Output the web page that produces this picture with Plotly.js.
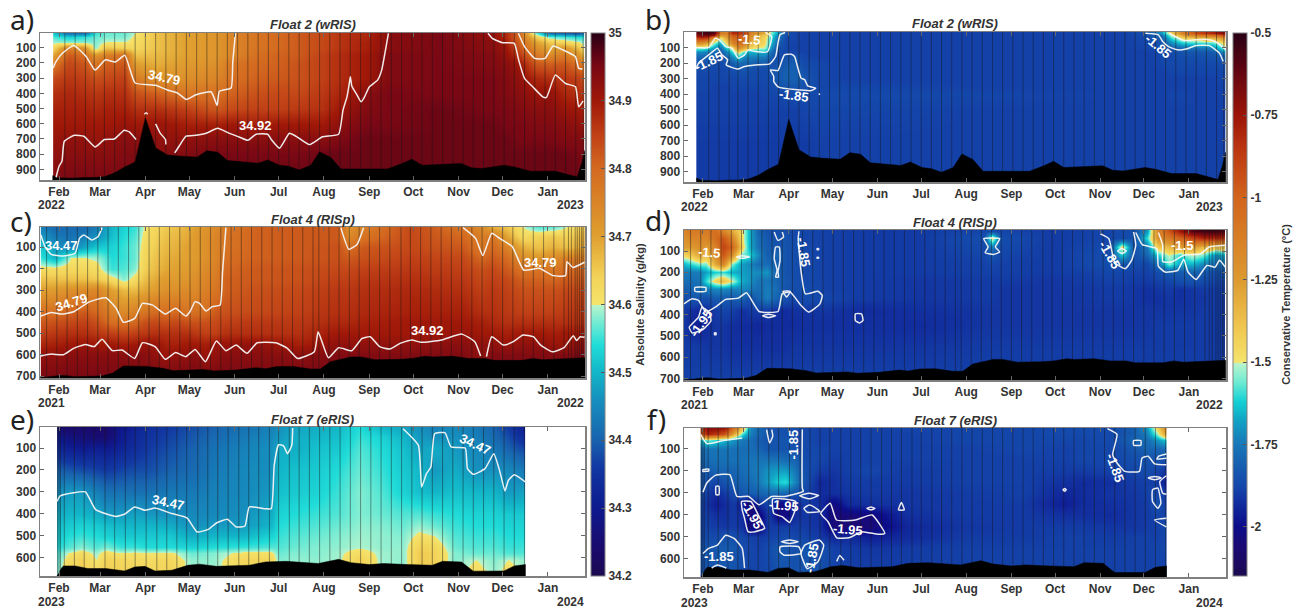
<!DOCTYPE html>
<html><head><meta charset="utf-8">
<script src="https://cdn.plot.ly/plotly-3.0.1.min.js"></script>
<style>html,body{margin:0;padding:0;background:#fff}#chart{width:1296px;height:609px}</style>
</head><body><div id="chart"></div>
<script>
// ---------- shared tick data (days since 1 February of the start year) ----------
const monthLabels = ['Feb','Mar','Apr','May','Jun','Jul','Aug','Sep','Oct','Nov','Dec','Jan'];
const monthDays = [0,28,59,89,120,150,181,212,242,273,303,334];

// ---------- colour scales ----------
const salinityStops = [[34.2,'#1c0a50'],[34.24,'#1a0a6c'],[34.3,'#0e1a8e'],[34.36,'#1238a2'],[34.4,'#1862ae'],[34.46,'#1690be'],[34.5,'#12b6c8'],[34.54,'#20dcd8'],[34.58,'#84eed2'],[34.599,'#baf4cc'],[34.6,'#f5e46c'],[34.64,'#f3d358'],[34.7,'#e0a030'],[34.8,'#d46a20'],[34.85,'#c04016'],[34.9,'#a01808'],[34.95,'#7a0814'],[34.97,'#5c0416'],[35,'#280014']];
const temperatureStops = [[-2.15,'#1c0a50'],[-2.05,'#1a0a78'],[-2,'#0c0c8a'],[-1.92,'#1230a0'],[-1.88,'#1446aa'],[-1.83,'#1558ae'],[-1.75,'#1878b8'],[-1.68,'#12a0c4'],[-1.62,'#14d0d4'],[-1.56,'#70ecd2'],[-1.505,'#b8f4cc'],[-1.5,'#f5e46c'],[-1.4,'#f0c850'],[-1.25,'#dd9a30'],[-1,'#d2641c'],[-0.85,'#bb3510'],[-0.75,'#9c1408'],[-0.6,'#5a0412'],[-0.5,'#280014']];

// ---------- Float 2 ----------
const float2Profiles = [4,11,18,24,31,38,45,52,59,66,73,80,87,94,101,108,115,122,129,136,143,150,157,164,171,178,185,192,199,206,213,220,227,234,241,248,255,262,269,276,283,290,297,304,311,318,325,332,339,346,353,358];
const float2Bathy = [[-4.3,941],[-1,956],[9,958],[17,954],[24,954],[31,948],[38,923],[44.6,886],[52,851],[59,562],[66,759],[74,805],[81,812],[94.3,820],[101,777],[108.4,788],[115,842],[136,860],[142.6,838],[150.6,873],[157,880],[164,904],[172,873],[178,785],[185.7,822],[192.5,897],[224.5,897],[234.3,862],[241,833],[248,873],[274.7,862],[281.7,890],[288.7,895],[304,873],[311,884],[322,912],[339,912],[354,950],[357,862],[359.3,774]];

const aDays = [-4,6,18,25,32,45,52,66,87,108,118,135,150,165,180,195,210,225,260,295,305,314,325,335,345,355,359];
const aDepths = [5,30,60,100,150,200,300,400,500,600,700,800,970];
const aSalinity = [
[34.52,34.42,34.42,34.55,34.57,34.57,34.60,34.66,34.70,34.72,34.75,34.78,34.80,34.82,34.84,34.87,34.88,34.93,34.95,34.92,34.88,34.80,34.58,34.42,34.40,34.38,34.45],
[34.56,34.53,34.55,34.57,34.58,34.58,34.61,34.66,34.70,34.72,34.75,34.78,34.80,34.82,34.84,34.87,34.88,34.93,34.95,34.92,34.88,34.80,34.65,34.58,34.56,34.54,34.55],
[34.59,34.58,34.58,34.58,34.60,34.60,34.62,34.66,34.70,34.72,34.75,34.78,34.80,34.82,34.84,34.87,34.89,34.93,34.95,34.93,34.90,34.81,34.70,34.65,34.63,34.60,34.58],
[34.63,34.76,34.72,34.58,34.66,34.64,34.63,34.66,34.70,34.72,34.75,34.78,34.80,34.82,34.84,34.87,34.89,34.93,34.95,34.93,34.91,34.83,34.74,34.69,34.72,34.66,34.60],
[34.70,34.82,34.79,34.72,34.76,34.79,34.66,34.67,34.70,34.72,34.75,34.79,34.81,34.82,34.85,34.88,34.90,34.94,34.95,34.94,34.92,34.86,34.78,34.74,34.77,34.72,34.66],
[34.77,34.84,34.82,34.78,34.81,34.82,34.70,34.68,34.71,34.73,34.78,34.80,34.81,34.83,34.85,34.88,34.90,34.94,34.95,34.94,34.93,34.90,34.82,34.81,34.82,34.78,34.75],
[34.84,34.86,34.85,34.83,34.84,34.85,34.77,34.72,34.73,34.75,34.79,34.81,34.82,34.83,34.85,34.88,34.90,34.94,34.95,34.95,34.94,34.92,34.88,34.87,34.86,34.85,34.82],
[34.87,34.88,34.87,34.86,34.87,34.87,34.83,34.81,34.78,34.79,34.81,34.83,34.84,34.84,34.86,34.89,34.93,34.95,34.95,34.95,34.94,34.93,34.91,34.92,34.88,34.87,34.85],
[34.89,34.89,34.89,34.88,34.89,34.89,34.87,34.87,34.85,34.82,34.84,34.85,34.85,34.86,34.87,34.91,34.94,34.95,34.96,34.95,34.95,34.94,34.93,34.93,34.91,34.90,34.88],
[34.90,34.90,34.90,34.90,34.90,34.91,34.90,34.91,34.89,34.89,34.90,34.89,34.90,34.90,34.90,34.93,34.95,34.95,34.96,34.96,34.95,34.95,34.94,34.94,34.93,34.92,34.90],
[34.91,34.92,34.92,34.91,34.92,34.93,34.93,34.92,34.92,34.93,34.93,34.93,34.93,34.93,34.93,34.95,34.96,34.96,34.96,34.96,34.96,34.95,34.95,34.95,34.94,34.94,34.93],
[34.92,34.93,34.93,34.93,34.93,34.94,34.94,34.93,34.94,34.95,34.95,34.95,34.95,34.95,34.96,34.96,34.96,34.96,34.96,34.96,34.96,34.96,34.96,34.96,34.96,34.95,34.94],
[34.94,34.95,34.95,34.95,34.95,34.95,34.95,34.95,34.95,34.96,34.96,34.96,34.96,34.96,34.96,34.96,34.96,34.96,34.96,34.96,34.96,34.96,34.96,34.96,34.96,34.96,34.95]];
const aContours = [
[[-4,233],[-2,190],[2.5,135],[10,85],[18.5,157],[24.6,247],[31.7,179],[38.5,194],[45,150],[52,332],[66,347],[74,378],[81,398],[87,440],[93.6,409],[104,391],[108,479],[109.5,387],[117.5,365],[118.7,190],[120.5,5]],
[[313.8,5],[318,93],[325,170],[332,170],[337.5,89],[344.4,115],[352.8,159],[355,236],[357.6,240]],
[[-2,952],[0,880],[2,847],[3.6,715],[10.5,676],[17,682],[24.6,753],[31,704],[37.8,700],[44.6,643],[48,654],[52.6,704]],
[[58.3,538],[59.5,527],[60.6,538]],
[[66,601],[69,660],[72.7,704],[73,737]],
[[79,792],[82,748],[86.8,682],[93.6,676],[100.5,663],[108.4,630],[116.4,663],[123,687],[129,709],[134.6,669],[142.6,669],[145,704],[150.6,761],[157.4,663],[162,683],[171,737],[180,686],[191,669],[194,510],[196.7,423],[198,352],[199,291],[200,352],[203.6,412],[206.4,456],[208.7,423],[212,357],[217.6,313],[220.4,247],[223,115],[225,5]],
[[293,5],[296,38],[303,67],[311,71],[314,181],[318,302],[324,361],[330.5,423],[333,427],[339,280],[346,335],[352.8,357],[355,489],[358,449]]];
const aLabels = [['34.79',72,293,12],['34.92',134,612,0]];

const bDays = [-4.5,-1,3,8,12,16,20,24,28,32,36,42,47,52,57,63,70,80,100,200,290,305,315,322,330,340,350,356,359];
const bDepths = [5,20,40,70,100,130,160,200,250,300,350,400,500,700,966];
const bTemperature = [
[-0.62,-0.58,-0.55,-0.6,-1.1,-1.15,-0.8,-0.85,-0.85,-1.1,-1.2,-1.3,-1.55,-1.7,-1.85,-1.88,-1.89,-1.89,-1.89,-1.89,-1.89,-1.85,-1.7,-1.4,-1.1,-0.9,-0.8,-0.7,-0.75],
[-0.7,-0.65,-0.65,-0.75,-1.25,-1.2,-0.95,-0.95,-1,-1.15,-1.3,-1.4,-1.58,-1.75,-1.86,-1.88,-1.89,-1.89,-1.89,-1.89,-1.89,-1.86,-1.78,-1.5,-1.25,-1.1,-1.05,-0.95,-0.9],
[-0.9,-0.85,-0.9,-1.3,-1.5,-1.3,-1.05,-1,-1.05,-1.2,-1.35,-1.45,-1.62,-1.78,-1.87,-1.88,-1.89,-1.89,-1.89,-1.89,-1.89,-1.87,-1.82,-1.6,-1.45,-1.38,-1.35,-1.25,-1.2],
[-1.2,-1.2,-1.3,-1.55,-1.65,-1.45,-1.15,-1.05,-1.1,-1.3,-1.4,-1.45,-1.65,-1.82,-1.88,-1.89,-1.89,-1.89,-1.89,-1.89,-1.89,-1.88,-1.84,-1.72,-1.62,-1.6,-1.58,-1.5,-1.42],
[-1.55,-1.55,-1.6,-1.7,-1.78,-1.62,-1.45,-1.2,-1.3,-1.45,-1.5,-1.52,-1.72,-1.85,-1.88,-1.89,-1.89,-1.89,-1.89,-1.89,-1.89,-1.88,-1.86,-1.82,-1.78,-1.76,-1.74,-1.6,-1.5],
[-1.72,-1.72,-1.74,-1.8,-1.83,-1.74,-1.6,-1.45,-1.58,-1.66,-1.66,-1.66,-1.78,-1.86,-1.88,-1.88,-1.89,-1.89,-1.89,-1.89,-1.89,-1.89,-1.88,-1.86,-1.84,-1.84,-1.83,-1.76,-1.68],
[-1.8,-1.8,-1.82,-1.84,-1.85,-1.8,-1.72,-1.62,-1.72,-1.74,-1.74,-1.75,-1.82,-1.87,-1.85,-1.84,-1.88,-1.89,-1.89,-1.89,-1.89,-1.89,-1.88,-1.87,-1.86,-1.86,-1.85,-1.83,-1.78],
[-1.84,-1.84,-1.85,-1.86,-1.87,-1.85,-1.82,-1.78,-1.8,-1.8,-1.82,-1.83,-1.85,-1.85,-1.83,-1.82,-1.87,-1.88,-1.89,-1.89,-1.89,-1.89,-1.88,-1.87,-1.87,-1.87,-1.87,-1.86,-1.84],
[-1.87,-1.87,-1.87,-1.88,-1.88,-1.87,-1.86,-1.85,-1.85,-1.86,-1.87,-1.87,-1.84,-1.83,-1.81,-1.81,-1.85,-1.88,-1.89,-1.89,-1.89,-1.89,-1.89,-1.88,-1.88,-1.88,-1.88,-1.88,-1.87],
[-1.88,-1.88,-1.88,-1.88,-1.88,-1.88,-1.88,-1.87,-1.87,-1.87,-1.87,-1.87,-1.85,-1.83,-1.81,-1.81,-1.83,-1.88,-1.89,-1.89,-1.89,-1.89,-1.89,-1.89,-1.89,-1.89,-1.89,-1.88,-1.88],
[-1.88,-1.88,-1.88,-1.89,-1.89,-1.89,-1.88,-1.88,-1.88,-1.88,-1.88,-1.88,-1.87,-1.85,-1.84,-1.84,-1.85,-1.88,-1.88,-1.89,-1.89,-1.89,-1.89,-1.89,-1.89,-1.89,-1.89,-1.89,-1.88],
[-1.89,-1.89,-1.89,-1.89,-1.89,-1.89,-1.89,-1.89,-1.89,-1.89,-1.89,-1.88,-1.88,-1.88,-1.87,-1.87,-1.87,-1.87,-1.87,-1.88,-1.89,-1.89,-1.89,-1.88,-1.88,-1.89,-1.89,-1.89,-1.89],
[-1.89,-1.89,-1.89,-1.89,-1.89,-1.89,-1.89,-1.89,-1.89,-1.89,-1.89,-1.89,-1.89,-1.89,-1.89,-1.89,-1.88,-1.88,-1.88,-1.89,-1.89,-1.89,-1.89,-1.89,-1.89,-1.89,-1.89,-1.89,-1.89],
[-1.9,-1.9,-1.9,-1.9,-1.9,-1.9,-1.9,-1.9,-1.9,-1.9,-1.9,-1.9,-1.9,-1.9,-1.9,-1.9,-1.9,-1.89,-1.89,-1.89,-1.89,-1.89,-1.89,-1.89,-1.89,-1.89,-1.89,-1.89,-1.89],
[-1.9,-1.9,-1.9,-1.9,-1.9,-1.9,-1.9,-1.9,-1.9,-1.9,-1.9,-1.9,-1.9,-1.9,-1.9,-1.9,-1.9,-1.89,-1.89,-1.89,-1.89,-1.89,-1.89,-1.89,-1.89,-1.89,-1.89,-1.89,-1.89]];
const bContours = [
[[-4.5,233],[-3,201],[4,147],[10,104],[13,147],[17,179],[16,212],[24,239],[28.6,222],[35.8,212],[46,205],[50,158],[51.6,72],[53,18],[56.5,3]],
[[-4.5,100],[4,100],[8.5,40],[11.3,50],[15.6,94],[20,104],[24.3,169],[28.6,147],[31,115],[35.8,126],[44.4,126],[47.3,29],[43,3]],
[[56,147],[60.8,143],[63,158],[64.7,212],[67.5,297],[70,308],[72,347],[77.5,362],[74.6,377],[52,355],[48.7,319],[48.7,287],[46.4,244],[51.6,248],[54.5,179],[56,147]],
[[79.6,396],[80.4,404]],
[[304,8],[313,18],[316,61],[320,94],[326,115],[332,110],[339,87],[348,87],[355,136],[357.6,190]],
[[320.5,8],[330.6,55],[345,46],[352,61],[359,111]]];
const bLabels = [['-1.5',31.6,50,5],['-1.85',4,192,-25],['-1.85',62.5,412,8],['-1.85',313,96,40]];

// ---------- Float 4 ----------
const float4Profiles = [-8.5,-1.5,5.5,12.5,19.5,26.5,33.5,40.5,47.5,54.5,61.5,68.5,75.5,82.5,89.5,96.5,103.5,110.5,117.5,124.5,131.5,138.5,145.5,152.5,159.5,166.5,173.5,177.5,184.4,191.3,198.3,205,212,219,226,233.6,240,247,254,261,268,275,282,289,296,303,310,317,324,331,338,345,348,350,352.6,354,355.5,357,358];
const float4Bathy = [[-13,708],[-2.6,700],[3,697],[11,703],[29,700],[36.4,687],[44,653],[60,655],[71,664],[78,675],[99,670],[106,676],[121,672],[135,661],[141,666],[149,656],[160,655],[171.6,667],[178.5,667],[185.5,633],[199.5,611],[206,611],[216,624],[233,622],[241,618],[250,608],[255,611],[269,608],[280,618],[291,618],[297,627],[316.5,627],[323.5,618],[330.5,624],[344,621],[359.3,615]];

const cDays = [-12.4,-3,8,18,26,36,44,52,58,66,73,80,88,93,100,107,114,135,165,190,198,208,240,276,289,296,305,317,328,338,347,359];
const cDepths = [5,50,100,150,200,250,300,400,450,500,550,600,709];
const cSalinity = [
[34.44,34.41,34.41,34.41,34.44,34.50,34.53,34.55,34.60,34.63,34.65,34.66,34.68,34.70,34.72,34.74,34.77,34.81,34.82,34.82,34.72,34.76,34.84,34.78,34.74,34.68,34.66,34.60,34.56,34.57,34.60,34.66],
[34.47,34.43,34.42,34.44,34.46,34.51,34.54,34.56,34.61,34.64,34.66,34.67,34.69,34.71,34.73,34.75,34.78,34.81,34.82,34.82,34.74,34.78,34.84,34.80,34.76,34.78,34.70,34.62,34.64,34.65,34.64,34.68],
[34.52,34.47,34.44,34.49,34.52,34.53,34.55,34.57,34.62,34.65,34.67,34.68,34.70,34.71,34.73,34.75,34.78,34.81,34.82,34.83,34.79,34.82,34.84,34.82,34.77,34.80,34.76,34.68,34.66,34.68,34.66,34.70],
[34.55,34.50,34.60,34.60,34.59,34.54,34.55,34.57,34.63,34.66,34.68,34.69,34.70,34.71,34.73,34.75,34.79,34.81,34.82,34.83,34.82,34.83,34.85,34.84,34.80,34.82,34.80,34.73,34.72,34.74,34.76,34.77],
[34.62,34.62,34.63,34.63,34.62,34.55,34.56,34.58,34.64,34.67,34.69,34.70,34.71,34.72,34.74,34.76,34.80,34.82,34.83,34.84,34.84,34.85,34.86,34.85,34.83,34.84,34.82,34.78,34.78,34.77,34.80,34.80],
[34.66,34.66,34.66,34.66,34.65,34.62,34.58,34.62,34.66,34.69,34.71,34.71,34.72,34.73,34.75,34.77,34.81,34.82,34.83,34.85,34.85,34.86,34.87,34.86,34.84,34.85,34.84,34.81,34.81,34.80,34.82,34.82],
[34.70,34.71,34.73,34.74,34.75,34.70,34.67,34.67,34.69,34.71,34.73,34.73,34.74,34.74,34.76,34.78,34.81,34.83,34.84,34.86,34.86,34.87,34.88,34.87,34.85,34.86,34.85,34.83,34.83,34.83,34.84,34.84],
[34.79,34.79,34.81,34.82,34.80,34.76,34.74,34.76,34.78,34.80,34.79,34.80,34.78,34.79,34.79,34.82,34.83,34.84,34.85,34.87,34.87,34.88,34.89,34.89,34.87,34.87,34.86,34.85,34.85,34.85,34.86,34.86],
[34.82,34.83,34.84,34.85,34.83,34.79,34.79,34.80,34.83,34.84,34.83,34.84,34.83,34.83,34.83,34.84,34.85,34.86,34.86,34.88,34.88,34.89,34.90,34.90,34.89,34.88,34.87,34.87,34.87,34.87,34.87,34.87],
[34.85,34.86,34.87,34.87,34.86,34.85,34.84,34.85,34.86,34.87,34.87,34.87,34.87,34.86,34.85,34.85,34.87,34.87,34.87,34.90,34.90,34.90,34.90,34.91,34.90,34.90,34.89,34.90,34.90,34.89,34.90,34.90],
[34.88,34.89,34.90,34.91,34.90,34.90,34.89,34.90,34.91,34.91,34.89,34.89,34.90,34.90,34.89,34.91,34.91,34.92,34.89,34.92,34.92,34.92,34.92,34.93,34.92,34.92,34.91,34.92,34.92,34.91,34.91,34.93],
[34.92,34.92,34.93,34.93,34.93,34.93,34.93,34.93,34.93,34.92,34.91,34.92,34.92,34.93,34.91,34.92,34.93,34.93,34.93,34.94,34.94,34.94,34.94,34.94,34.92,34.94,34.94,34.94,34.94,34.94,34.94,34.95],
[34.95,34.95,34.95,34.95,34.95,34.95,34.95,34.95,34.95,34.95,34.95,34.95,34.95,34.95,34.95,34.95,34.95,34.95,34.95,34.95,34.95,34.95,34.95,34.95,34.95,34.95,34.95,34.95,34.95,34.95,34.95,34.95]];
const cContours = [
[[-12.4,44],[-9.6,98],[-5.4,134],[3,142],[11,129],[14,60],[16.9,44],[22.4,67],[26.6,52],[29.4,10]],
[[-12.4,421],[-5.4,404],[1.5,412],[10,401],[21,354],[32,336],[39,385],[44,450],[51.7,432],[57,362],[64,370],[72.6,412],[79.6,385],[86.6,421],[89.4,401],[93,354],[96,362],[100.5,398],[104.7,377],[110,370],[111.7,215],[114,10]],
[[192.5,10],[198,111],[203.6,88],[208,10]],
[[276,10],[284.6,60],[289.5,140],[295.6,36],[301,60],[309.6,98],[317.4,207],[328,199],[337.5,233],[346,233],[347,168],[351,195],[359,171]],
[[-12.4,607],[-5.4,598],[3,601],[10,571],[18,553],[24,563],[29.4,529],[36.4,582],[43,579],[51.7,618],[57,545],[65.6,563],[72.6,622],[79.6,591],[86.6,610],[93,576],[100,633],[107.5,537],[114,582],[121,556],[128.4,594],[135.4,545],[148,545],[156,571],[163,618],[174.4,587],[177,494],[184,615],[191,568],[200,582],[207,525],[212.6,517],[219,563],[226,574],[232.9,548],[241,532],[247,543],[261.5,532],[275,505],[284,540],[288,607]],
[[292,610],[295.6,517],[303.6,556],[310.3,540],[317,509],[324,517],[329,556],[337,587],[345,568],[351.3,512],[353.6,535],[356,517],[359,520]]];
const cLabels = [['34.47',2,95,0],['34.79',8.5,356,-18],['34.92',252,486,0],['34.79',329,170,0]];

const dDays = [-13,-8,-3,2,8,14,20,26,32,38,44,50,56,62,70,85,110,150,193,199,205,240,280,288,296,305,313,320,328,336,344,352,359];
const dDepths = [5,40,80,120,160,200,240,280,320,380,450,550,708];
const dTemperature = [
[-1.15,-1.1,-1.1,-1.1,-1.05,-1.15,-1.3,-1.45,-1.65,-1.8,-1.85,-1.86,-1.85,-1.87,-1.88,-1.89,-1.9,-1.9,-1.88,-1.87,-1.88,-1.9,-1.88,-1.87,-1.86,-1.7,-1.15,-0.95,-0.75,-0.6,-0.55,-0.55,-0.6],
[-1.2,-1.15,-1.15,-1.15,-1.05,-0.95,-1.15,-1.45,-1.65,-1.78,-1.83,-1.86,-1.84,-1.87,-1.88,-1.89,-1.9,-1.9,-1.86,-1.45,-1.86,-1.9,-1.88,-1.87,-1.85,-1.6,-1.2,-1.1,-1,-0.9,-0.8,-0.8,-0.85],
[-1.25,-1.25,-1.2,-1.25,-1.15,-0.9,-1,-1.4,-1.65,-1.77,-1.82,-1.83,-1.84,-1.86,-1.87,-1.89,-1.9,-1.9,-1.87,-1.75,-1.87,-1.9,-1.87,-1.45,-1.86,-1.75,-1.4,-1.35,-1.25,-1.25,-1.35,-1.4,-1.4],
[-1.45,-1.4,-1.3,-1.35,-1.2,-0.95,-1.2,-1.55,-1.6,-1.72,-1.82,-1.8,-1.84,-1.86,-1.87,-1.89,-1.9,-1.9,-1.88,-1.84,-1.88,-1.9,-1.86,-1.62,-1.85,-1.8,-1.62,-1.5,-1.6,-1.5,-1.55,-1.7,-1.65],
[-1.65,-1.6,-1.55,-1.55,-1.3,-1.15,-1.55,-1.68,-1.72,-1.78,-1.78,-1.82,-1.84,-1.86,-1.87,-1.89,-1.9,-1.9,-1.89,-1.88,-1.89,-1.9,-1.86,-1.84,-1.87,-1.88,-1.78,-1.55,-1.68,-1.65,-1.72,-1.78,-1.76],
[-1.74,-1.75,-1.74,-1.68,-1.62,-1.6,-1.66,-1.68,-1.7,-1.72,-1.7,-1.8,-1.84,-1.86,-1.87,-1.89,-1.9,-1.9,-1.89,-1.89,-1.89,-1.9,-1.88,-1.88,-1.89,-1.89,-1.86,-1.83,-1.82,-1.8,-1.83,-1.86,-1.85],
[-1.78,-1.78,-1.76,-1.6,-1.45,-1.38,-1.5,-1.66,-1.7,-1.76,-1.76,-1.8,-1.83,-1.86,-1.87,-1.89,-1.9,-1.91,-1.9,-1.9,-1.9,-1.91,-1.89,-1.89,-1.9,-1.9,-1.89,-1.88,-1.86,-1.85,-1.87,-1.88,-1.88],
[-1.82,-1.8,-1.78,-1.75,-1.72,-1.72,-1.74,-1.72,-1.74,-1.78,-1.74,-1.78,-1.84,-1.86,-1.86,-1.89,-1.9,-1.91,-1.9,-1.9,-1.91,-1.91,-1.9,-1.9,-1.91,-1.92,-1.91,-1.9,-1.92,-1.91,-1.9,-1.9,-1.89],
[-1.87,-1.84,-1.84,-1.86,-1.82,-1.82,-1.83,-1.8,-1.86,-1.8,-1.74,-1.8,-1.84,-1.88,-1.86,-1.88,-1.9,-1.91,-1.9,-1.9,-1.91,-1.91,-1.9,-1.9,-1.91,-1.92,-1.92,-1.91,-1.92,-1.91,-1.91,-1.9,-1.9],
[-1.9,-1.92,-1.94,-1.93,-1.9,-1.88,-1.89,-1.92,-1.9,-1.9,-1.9,-1.92,-1.93,-1.92,-1.91,-1.91,-1.93,-1.92,-1.91,-1.91,-1.91,-1.91,-1.91,-1.91,-1.91,-1.91,-1.91,-1.91,-1.91,-1.91,-1.9,-1.9,-1.9],
[-1.91,-1.94,-1.96,-1.93,-1.91,-1.91,-1.92,-1.93,-1.93,-1.94,-1.93,-1.93,-1.93,-1.93,-1.92,-1.92,-1.92,-1.93,-1.91,-1.91,-1.91,-1.91,-1.91,-1.91,-1.91,-1.91,-1.9,-1.9,-1.9,-1.9,-1.9,-1.9,-1.9],
[-1.9,-1.9,-1.9,-1.91,-1.91,-1.91,-1.92,-1.92,-1.92,-1.92,-1.92,-1.92,-1.92,-1.91,-1.91,-1.91,-1.91,-1.91,-1.9,-1.9,-1.9,-1.9,-1.9,-1.9,-1.9,-1.9,-1.9,-1.9,-1.9,-1.9,-1.9,-1.9,-1.9],
[-1.89,-1.89,-1.89,-1.89,-1.89,-1.89,-1.89,-1.89,-1.89,-1.89,-1.89,-1.89,-1.89,-1.89,-1.89,-1.89,-1.89,-1.89,-1.89,-1.89,-1.89,-1.89,-1.89,-1.89,-1.89,-1.89,-1.89,-1.89,-1.89,-1.89,-1.89,-1.89,-1.89]];
const dContours = [
[[-13,349],[-7.4,325],[-3,333],[2,388],[8.5,365],[15.6,328],[24.3,322],[30,297],[38.6,385],[51.6,385],[54.5,302],[60,294],[67.5,357],[72.6,388],[80.4,349],[82,309],[79,290],[70.4,302],[67.5,199],[65.5,42],[66,7]],
[[-5.5,272],[2,272],[2,290],[-5.5,290],[-5.5,272]],
[[-0.7,365],[4,388],[5.6,428],[0,470],[-7.4,486],[-9.4,459],[-3,412],[-0.7,365]],
[[8,486],[9,486],[9,494],[8,494],[8,486]],
[[23,128],[27,122],[32,128],[27,134],[23,128]],
[[50,81],[52.5,81],[53,144],[51.6,199],[52,223],[50,223],[51,191],[49,136],[50,81]],
[[49,10],[51.6,50],[55.4,34],[54.5,10]],
[[55,290],[60,290],[57.5,317],[55,290]],
[[41,405],[45,398],[50,405],[45,414],[41,405]],
[[104.8,396],[109,396],[110,428],[107.7,439],[104.8,428],[104.8,396]],
[[193,42],[204,42],[201,81],[204,105],[199.7,116],[194,108],[196,81],[193,42]],
[[78.5,88],[79.5,88],[79.5,94],[78.5,94],[78.5,88]],
[[78.5,130],[79.5,130],[79.5,134],[78.5,134],[78.5,130]],
[[273,18],[279,42],[283,155],[290.3,183],[294.6,144],[297.5,73],[296,10]],
[[297.5,13],[302,70],[312,89],[313,171],[317.6,199],[326.3,191],[330.5,139],[333.4,199],[339,234],[346.4,168],[352,176],[355,144],[359,176]],
[[313,13],[316,73],[316,149],[322,152],[330.5,120],[342,113],[348,81],[359,73]],
[[285,100],[288,88],[291,100],[288,112],[285,100]]];
const dLabels = [['-1.85',69.4,105,80],['-1.95',-1.6,440,-55],['-1.85',280,119,60],['-1.5',4,109,5],['-1.5',329,76,0]];

// ---------- Float 7 ----------
const float7Profiles = [-1,0,1,3.6,10.5,17.2,24,31.4,38,45.3,52,59.5,66.8,73.6,80.5,87.2,94.8,101.6,108.4,115.5,122.8,129.6,136.4,143.7,150,157.3,164,171,178,185,192,199,206,213,220,227,234,241,248,255,262,269,276,283,290,297,304,311,318];
const float7Bathy = [[-1.3,683],[0,670],[1.5,650],[3,638],[11,638],[19.6,650],[32,650],[44.7,661],[51.7,643],[58.7,640],[65.6,661],[77,658],[88,635],[96,630],[107.5,640],[130,635],[141,620],[155,617],[177,627],[191,608],[199.5,623],[212,632],[221.7,627],[238.5,632],[255,635],[262,617],[275,620],[283,662],[304,661],[311,638],[318.6,632]];

const eDays = [-1.3,6,15,25,32,42,52,60,75,90,105,125,145,150,160,175,190,205,220,235,246,256,270,285,297,307,318.6];
const eDepths = [5,50,100,200,300,400,450,500,550,580,610,684];
const eSalinity = [
[34.25,34.24,34.24,34.24,34.24,34.29,34.32,34.34,34.36,34.38,34.40,34.42,34.44,34.46,34.48,34.49,34.50,34.54,34.50,34.48,34.46,34.44,34.45,34.43,34.40,34.36,34.30],
[34.30,34.27,34.26,34.25,34.25,34.30,34.33,34.35,34.37,34.39,34.41,34.43,34.45,34.47,34.49,34.50,34.51,34.55,34.53,34.50,34.47,34.46,34.46,34.44,34.41,34.38,34.33],
[34.33,34.31,34.30,34.31,34.30,34.32,34.34,34.36,34.38,34.40,34.42,34.44,34.46,34.49,34.49,34.51,34.52,34.56,34.54,34.51,34.48,34.49,34.47,34.45,34.43,34.40,34.37],
[34.40,34.39,34.38,34.37,34.36,34.37,34.38,34.38,34.40,34.41,34.43,34.45,34.46,34.50,34.51,34.52,34.54,34.57,34.55,34.52,34.50,34.47,34.49,34.46,34.46,34.45,34.43],
[34.46,34.47,34.47,34.44,34.42,34.42,34.42,34.42,34.43,34.43,34.44,34.45,34.47,34.51,34.52,34.53,34.55,34.58,34.56,34.53,34.51,34.50,34.51,34.50,34.50,34.47,34.48],
[34.49,34.50,34.50,34.49,34.47,34.47,34.48,34.47,34.46,34.45,34.45,34.46,34.49,34.53,34.54,34.55,34.56,34.58,34.57,34.56,34.56,34.55,34.54,34.53,34.53,34.52,34.52],
[34.51,34.52,34.53,34.52,34.51,34.50,34.50,34.50,34.49,34.46,34.47,34.47,34.50,34.54,34.55,34.56,34.57,34.585,34.58,34.57,34.585,34.57,34.55,34.54,34.54,34.53,34.53],
[34.52,34.54,34.55,34.54,34.53,34.52,34.52,34.52,34.52,34.49,34.50,34.50,34.53,34.55,34.56,34.57,34.58,34.59,34.585,34.58,34.61,34.60,34.56,34.55,34.55,34.54,34.54],
[34.54,34.56,34.58,34.56,34.575,34.55,34.55,34.54,34.54,34.53,34.54,34.55,34.56,34.56,34.57,34.58,34.585,34.595,34.585,34.585,34.64,34.63,34.57,34.56,34.56,34.55,34.55],
[34.56,34.60,34.62,34.59,34.62,34.60,34.61,34.60,34.61,34.57,34.58,34.61,34.61,34.57,34.58,34.58,34.59,34.62,34.59,34.585,34.65,34.64,34.58,34.57,34.57,34.56,34.56],
[34.57,34.62,34.64,34.60,34.64,34.63,34.62,34.62,34.63,34.585,34.585,34.63,34.63,34.58,34.585,34.585,34.59,34.64,34.59,34.585,34.65,34.64,34.58,34.60,34.58,34.60,34.585],
[34.58,34.64,34.65,34.63,34.65,34.64,34.64,34.64,34.64,34.59,34.59,34.64,34.64,34.585,34.585,34.585,34.59,34.65,34.59,34.585,34.65,34.64,34.585,34.62,34.59,34.62,34.59]];
const eContours = [
[[-1.3,343],[0.7,319],[10,304],[18,300],[25,381],[39,412],[44.7,402],[51.7,369],[58.7,384],[65.6,374],[77,399],[87.4,419],[94.3,483],[102,471],[107.5,442],[115,425],[121,460],[127,456],[130,369],[141,377],[145,377],[147,179],[150,85],[153.5,91],[156,126],[159,88],[159.6,9]],
[[235,12],[245.5,88],[247.7,278],[251,217],[254,187],[256.6,35],[263.6,30],[267.8,95],[277.5,100],[279,194],[283,220],[291,194],[297,126],[301.2,209],[304.6,296],[307,247],[311,222],[318.6,255]]];
const eLabels = [['34.47',75,347,12],['34.47',284.5,82,25]];

const fDays = [-1.6,3,9,15,21,27,33,39,45,51,57,63,69,80,90,100,115,140,180,220,249,260,280,295,305,312,318.6];
const fDepths = [5,30,60,100,150,200,250,300,350,400,450,500,550,682];
const fTemperature = [
[-0.9,-0.7,-0.72,-0.75,-1.05,-1.4,-1.72,-1.8,-1.84,-1.85,-1.85,-1.86,-1.87,-1.89,-1.89,-1.89,-1.89,-1.88,-1.88,-1.88,-1.87,-1.87,-1.87,-1.82,-1.7,-1.45,-1.15],
[-1,-0.8,-0.85,-0.95,-1.3,-1.6,-1.74,-1.8,-1.84,-1.85,-1.85,-1.86,-1.87,-1.89,-1.89,-1.89,-1.89,-1.89,-1.88,-1.88,-1.87,-1.87,-1.87,-1.82,-1.74,-1.55,-1.25],
[-1.65,-1.55,-1.6,-1.65,-1.7,-1.75,-1.78,-1.82,-1.85,-1.84,-1.84,-1.85,-1.87,-1.89,-1.89,-1.89,-1.89,-1.89,-1.88,-1.88,-1.88,-1.88,-1.87,-1.8,-1.78,-1.7,-1.62],
[-1.78,-1.76,-1.76,-1.76,-1.77,-1.78,-1.78,-1.8,-1.84,-1.84,-1.84,-1.85,-1.87,-1.88,-1.89,-1.89,-1.89,-1.89,-1.89,-1.88,-1.89,-1.88,-1.88,-1.84,-1.8,-1.8,-1.78],
[-1.8,-1.78,-1.77,-1.77,-1.77,-1.77,-1.76,-1.76,-1.76,-1.76,-1.78,-1.8,-1.86,-1.88,-1.9,-1.89,-1.89,-1.89,-1.89,-1.89,-1.89,-1.88,-1.88,-1.86,-1.85,-1.84,-1.87],
[-1.84,-1.82,-1.8,-1.8,-1.8,-1.78,-1.76,-1.74,-1.7,-1.68,-1.68,-1.75,-1.85,-1.9,-1.91,-1.89,-1.88,-1.9,-1.89,-1.89,-1.9,-1.9,-1.89,-1.88,-1.86,-1.88,-1.92],
[-1.84,-1.86,-1.88,-1.84,-1.82,-1.8,-1.78,-1.74,-1.68,-1.62,-1.6,-1.72,-1.84,-1.94,-1.92,-1.9,-1.9,-1.9,-1.89,-1.89,-1.92,-1.93,-1.92,-1.9,-1.89,-1.9,-1.97],
[-1.86,-1.9,-1.93,-1.9,-1.86,-1.83,-1.82,-1.8,-1.78,-1.78,-1.8,-1.84,-1.88,-1.93,-1.92,-1.91,-1.9,-1.91,-1.9,-1.89,-1.94,-1.93,-1.91,-1.91,-1.89,-1.87,-1.9],
[-1.88,-1.92,-1.96,-1.93,-1.9,-1.98,-2.04,-1.92,-1.88,-2.02,-2.03,-1.94,-1.9,-1.92,-2.03,-1.93,-1.92,-1.91,-1.9,-1.9,-1.96,-1.93,-1.92,-1.91,-1.9,-1.85,-1.9],
[-1.88,-1.9,-1.92,-1.92,-1.9,-1.93,-2.05,-2.03,-1.89,-2.02,-2.03,-1.93,-1.91,-1.92,-2.05,-2.04,-2.03,-1.92,-1.9,-1.9,-1.92,-1.92,-1.93,-1.91,-1.9,-1.88,-1.89],
[-1.88,-1.89,-1.9,-1.91,-1.9,-1.92,-2.05,-2.03,-1.9,-1.9,-1.9,-1.9,-1.9,-1.92,-2.05,-2.06,-2.05,-1.94,-1.91,-1.9,-1.9,-1.9,-1.91,-1.91,-1.9,-1.89,-1.87],
[-1.87,-1.87,-1.87,-1.85,-1.86,-1.88,-1.89,-1.9,-1.89,-1.88,-1.86,-1.88,-1.88,-1.9,-1.94,-1.93,-1.96,-1.93,-1.9,-1.9,-1.89,-1.89,-1.9,-1.89,-1.89,-1.89,-1.88],
[-1.85,-1.84,-1.83,-1.82,-1.83,-1.86,-1.88,-1.89,-1.86,-1.83,-1.83,-1.85,-1.84,-1.85,-1.89,-1.9,-1.91,-1.9,-1.89,-1.89,-1.89,-1.89,-1.89,-1.89,-1.89,-1.88,-1.88],
[-1.85,-1.84,-1.84,-1.84,-1.85,-1.87,-1.88,-1.88,-1.88,-1.85,-1.85,-1.85,-1.84,-1.85,-1.88,-1.89,-1.89,-1.89,-1.89,-1.89,-1.89,-1.89,-1.89,-1.89,-1.89,-1.89,-1.89]];
const fContours = [
[[0,297],[2.7,255],[8.5,220],[18.5,217],[23.4,316],[31.4,316],[38.6,354],[47.3,316],[56,316],[69,293],[68.3,278],[68.3,12]],
[[43.8,12],[45.8,73],[48,42],[47.3,12]],
[[-1.6,34],[2.7,76],[14,62],[27,50]],
[[0,195],[4,192],[4,200],[0,202],[0,195]],
[[9,270],[11,270],[11,308],[9,308],[9,270]],
[[26.6,339],[33,339],[38,400],[42.4,461],[35.8,476],[31,476],[28.6,415],[27,377],[26.6,339]],
[[48,327],[63.7,339],[63,385],[59.6,434],[54.5,408],[48.7,393],[48,327]],
[[81,393],[87.5,347],[91.8,423],[104.8,423],[116.3,400],[125,484],[120.7,488],[109,476],[100.5,504],[92,504],[86,431],[81,393]],
[[66.5,313],[73,301],[79.5,312],[73,327],[66.5,313]],
[[69.4,370],[73,355],[76,362],[80.4,385],[71.7,388],[69.4,370]],
[[112.6,370],[115.5,364],[118.3,370],[115.5,377],[112.6,370]],
[[134.4,377],[136.4,344],[138.4,377],[134.4,377]],
[[247.5,286],[248.6,280],[249.7,286],[248.6,292],[247.5,286]],
[[54,522],[59.6,514],[65.4,522],[59.6,530],[54,522]],
[[53,545],[66,545],[67.4,575],[55.8,583],[53,568],[53,545]],
[[67.4,575],[70,537],[80,514],[83,537],[79,613],[71.7,644],[67.4,575]],
[[92,611],[94,584],[97,606]],
[[0,575],[4,552],[10,537],[15.6,492],[21.4,507],[27,552],[28.6,641]],
[[6,641],[10,628],[16,641]],
[[278,8],[284.6,34],[281.6,126],[284.6,164],[290,202],[300,202],[301.8,141],[306,133],[310.5,168],[318.5,172]],
[[318.5,123],[313.3,133],[312,146],[318.5,142]],
[[296,62],[301,62],[301,83],[296,83],[296,62]],
[[306,232],[310.5,225],[315,232],[310.5,240],[306,232]],
[[318.5,222],[314,248],[316,301],[318.5,306]],
[[309,286],[312.7,278],[314.7,347],[312.7,370],[309,339],[309,286]],
[[318.5,415],[310.4,423],[318.5,454]]];
const fLabels = [['-1.85',62.3,82,-90],['-1.95',33.5,400,60],['-1.95',55.7,355,5],['-1.95',99.7,468,5],['-1.85',11.3,591,0],['-1.85',75,595,-80],['-1.85',283,186,70]];

// ---------- panel table ----------
const panels = [
 {id:'',  letter:'a)',title:'Float 2 (wRIS)',year:2022,box:[40,585,33,180],letterPos:[8,19],yearY:204.5,yearX:[51,570],yr:[970,3],ticks:[100,200,300,400,500,600,700,800,900],xr:[-13,359.3],days:aDays,depths:aDepths,z:aSalinity,kind:'s',prof:float2Profiles,bathy:float2Bathy,cont:aContours,lab:aLabels},
 {id:'2', letter:'b)',title:'Float 2 (wRIS)',year:2022,box:[684,1226,32,182],letterPos:[643,19],yearY:207,yearX:[694,1209],yr:[966,0],ticks:[100,200,300,400,500,600,700,800,900],xr:[-13,359.5],days:bDays,depths:bDepths,z:bTemperature,kind:'t',prof:float2Profiles,bathy:float2Bathy,cont:bContours,lab:bLabels},
 {id:'3', letter:'c)',title:'Float 4 (RISp)',year:2021,box:[40,585,227,378],letterPos:[8,221],yearY:403,yearX:[51,570],yr:[709,7],ticks:[100,200,300,400,500,600,700],xr:[-13,359.3],days:cDays,depths:cDepths,z:cSalinity,kind:'s',prof:float4Profiles,bathy:float4Bathy,cont:cContours,lab:cLabels},
 {id:'4', letter:'d)',title:'Float 4 (RISp)',year:2021,box:[684,1226,230,380],letterPos:[643,220],yearY:405,yearX:[694,1209],yr:[708,1],ticks:[100,200,300,400,500,600,700],xr:[-13,359.5],days:dDays,depths:dDepths,z:dTemperature,kind:'t',prof:float4Profiles,bathy:float4Bathy,cont:dContours,lab:dLabels},
 {id:'5', letter:'e)',title:'Float 7 (eRIS)',year:2023,box:[40,585,427,576],letterPos:[8,419],yearY:602,yearX:[51,570],yr:[684,4],ticks:[100,200,300,400,500,600],xr:[-13,359.3],days:eDays,depths:eDepths,z:eSalinity,kind:'s',prof:float7Profiles,bathy:float7Bathy,cont:eContours,lab:eLabels},
 {id:'6', letter:'f)',title:'Float 7 (eRIS)',year:2023,box:[684,1226,428,577],letterPos:[645,419],yearY:603,yearX:[694,1209],yr:[682,5],ticks:[100,200,300,400,500,600],xr:[-13,359.5],days:fDays,depths:fDepths,z:fTemperature,kind:'t',prof:float7Profiles,bathy:float7Bathy,cont:fContours,lab:fLabels}];

const W=1296,H=609, SANS='"Liberation Sans", Arial, sans-serif', INK='#333333';
const scaleOf = (stops)=>{const a=stops[0][0],b=stops[stops.length-1][0];return stops.map(s=>[(s[0]-a)/(b-a),s[1]]);};
const dateOf = (year,d)=>new Date(Date.UTC(year,1,1)+d*864e5).toISOString().slice(0,16).replace('T',' ');
const salBar = {tickvals:[34.2,34.3,34.4,34.5,34.6,34.7,34.8,34.9,35],title:'Absolute Salinity (g/kg)',x:591},
      tmpBar = {tickvals:[-2,-1.75,-1.5,-1.25,-1,-0.75,-0.5],title:'Conservative Temperature (°C)',x:1233};

const data=[], annotations=[], layout={width:W,height:H,margin:{l:0,r:0,t:0,b:0,pad:0},paper_bgcolor:'#fff',plot_bgcolor:'#fff',showlegend:false,font:{family:SANS,color:INK},annotations};

panels.forEach((p,idx)=>{
  const xa='x'+p.id, ya='y'+p.id, toDate=d=>d===null?null:dateOf(p.year,d);
  const [L,R,T,B]=p.box;
  const axisCommon={tickmode:'array',ticks:'inside',ticklen:4,tickcolor:'#666',tickfont:{size:12,family:SANS,color:INK,weight:700},showgrid:false,zeroline:false,showline:true,linecolor:'#808080',linewidth:1.5,mirror:'ticks',layer:'above traces'};
  layout['xaxis'+p.id]=Object.assign({domain:[L/W,R/W],range:[toDate(p.xr[0]),toDate(p.xr[1])],type:'date',anchor:ya,tickvals:monthDays.map(toDate),ticktext:monthLabels},axisCommon);
  layout['yaxis'+p.id]=Object.assign({domain:[1-B/H,1-T/H],range:p.yr,anchor:xa,tickvals:p.ticks,ticktext:p.ticks.map(String)},axisCommon);

  const sal=p.kind==='s', stops=sal?salinityStops:temperatureStops, bar=sal?salBar:tmpBar;
  // a repeated edge column stops the heatmap from running half a cell past the first and last profile
  const n=p.days.length;
  const xs=[p.days[0],p.days[0]+0.05,...p.days.slice(1,n-1),p.days[n-1]-0.05,p.days[n-1]].map(toDate);
  const zs=p.z.map(r=>[r[0],r[0],...r.slice(1,n-1),r[n-1],r[n-1]]);
  const hm={type:'heatmap',x:xs,y:p.depths,z:zs,xaxis:xa,yaxis:ya,zsmooth:'best',colorscale:scaleOf(stops),zmin:stops[0][0],zmax:stops[stops.length-1][0],hoverinfo:'skip',showscale:idx<2};
  if(idx<2) hm.colorbar={x:bar.x/W,xanchor:'left',xref:'paper',y:1-576/H,yanchor:'bottom',yref:'paper',len:543/H,lenmode:'fraction',thickness:14,thicknessmode:'pixels',outlinecolor:'#808080',outlinewidth:1,tickmode:'array',tickvals:bar.tickvals,ticktext:bar.tickvals.map(String),ticks:'inside',ticklen:4,tickcolor:'#555',tickfont:{size:12,family:SANS,color:INK,weight:700},title:{text:bar.title,side:'right',font:{size:11,family:SANS,color:INK,weight:700}},xpad:0,ypad:0};
  data.push(hm);

  // profile lines, from the top of the axis to its bottom
  const px=[],py=[]; p.prof.forEach(d=>{px.push(toDate(d),toDate(d),null);py.push(p.yr[1],p.yr[0],null);});
  data.push({type:'scatter',mode:'lines',x:px,y:py,xaxis:xa,yaxis:ya,line:{color:'rgba(20,20,20,0.55)',width:0.8},hoverinfo:'skip'});

  // bathymetry polygon closed along the bottom of the axis
  const first=p.bathy[0][0], last=p.bathy[p.bathy.length-1][0];
  data.push({type:'scatter',mode:'lines',x:[first,...p.bathy.map(b=>b[0]),last,first].map(toDate),y:[p.yr[0],...p.bathy.map(b=>b[1]),p.yr[0],p.yr[0]],xaxis:xa,yaxis:ya,fill:'toself',fillcolor:'#000',line:{color:'#000',width:0.5},hoverinfo:'skip'});

  // contour segments
  const cx=[],cy=[]; p.cont.forEach(seg=>{seg.forEach(c=>{cx.push(toDate(c[0]));cy.push(c[1]);});cx.push(null);cy.push(null);});
  data.push({type:'scatter',mode:'lines',x:cx,y:cy,xaxis:xa,yaxis:ya,line:{color:'rgba(245,245,245,0.95)',width:1.5,shape:'spline',smoothing:0.45},hoverinfo:'skip',connectgaps:false});

  p.lab.forEach(l=>annotations.push({xref:xa,yref:ya,x:toDate(l[1]),y:l[2],text:l[0],textangle:l[3],showarrow:false,font:{size:13,family:SANS,color:'#fff',weight:700},xanchor:'center',yanchor:'middle'}));

  annotations.push({xref:'paper',yref:'paper',x:(L+R)/2/W,y:1-(T-8)/H,text:p.title,showarrow:false,font:{size:13,family:SANS,color:INK,weight:700,style:'italic'},xanchor:'center',yanchor:'middle'});
  annotations.push({xref:'paper',yref:'paper',x:p.letterPos[0]/W,y:1-p.letterPos[1]/H,text:p.letter,showarrow:false,font:{size:28,family:'"Noto Sans", sans-serif',color:'#222'},xanchor:'left',yanchor:'middle'});
  annotations.push({xref:'paper',yref:'paper',x:p.yearX[0]/W,y:1-p.yearY/H,text:String(p.year),showarrow:false,font:{size:12,family:SANS,color:INK,weight:700},xanchor:'center',yanchor:'middle'});
  annotations.push({xref:'paper',yref:'paper',x:p.yearX[1]/W,y:1-p.yearY/H,text:String(p.year+1),showarrow:false,font:{size:12,family:SANS,color:INK,weight:700},xanchor:'center',yanchor:'middle'});
});

Plotly.newPlot('chart',data,layout,{displayModeBar:false,staticPlot:true});
</script></body></html>
